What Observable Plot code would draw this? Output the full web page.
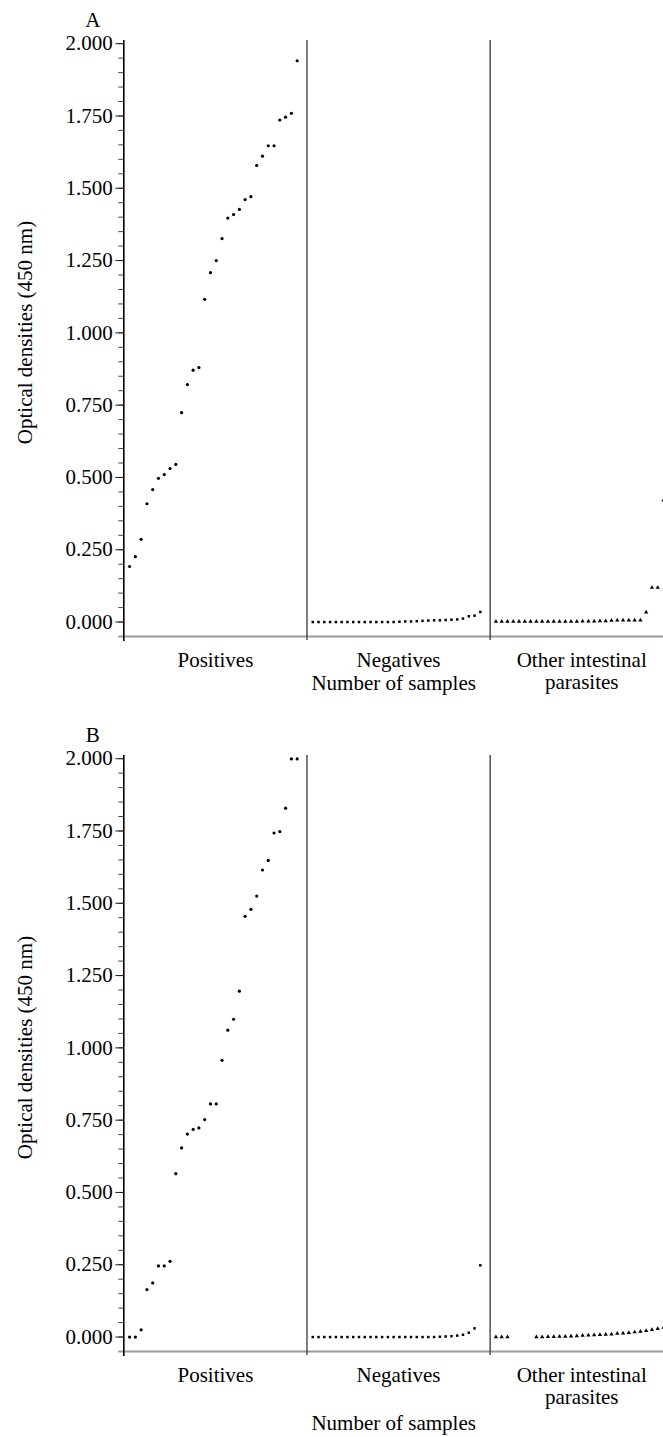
<!DOCTYPE html>
<html><head><meta charset="utf-8">
<script src="https://cdn.jsdelivr.net/npm/d3@7"></script>
<script src="https://cdn.jsdelivr.net/npm/@observablehq/plot@0.6"></script>
<style>
html,body{margin:0;padding:0;background:#fff;overflow:hidden}
#chart svg{display:block}
#chart svg text{font-family:'Liberation Serif','Times New Roman',serif}
</style></head><body><div id="chart"></div>
<script>
const groups = ["Positives", "Negatives", "Other intestinal\nparasites"];
const yTickValues = [0, 0.25, 0.5, 0.75, 1, 1.25, 1.5, 1.75, 2];
const yTitle = "Optical densities (450 nm)";
const xTitle = "Number of samples";

// Panel A
const posA = [0.192,0.226,0.286,0.409,0.458,0.497,0.510,0.531,0.545,0.724,0.821,0.871,0.880,1.116,1.208,1.250,1.326,1.397,1.409,1.427,1.461,1.471,1.579,1.611,1.647,1.647,1.736,1.746,1.759,1.941];
const negA = [0,0,0,0,0,0,0,0,0,0,0,0,0,0,0,0.001,0.002,0.002,0.003,0.004,0.005,0.006,0.006,0.007,0.008,0.009,0.012,0.020,0.022,0.035];
const othA = [0.002,0.002,0.002,0.002,0.002,0.002,0.002,0.002,0.002,0.002,0.002,0.002,0.002,0.002,0.002,0.003,0.003,0.003,0.004,0.004,0.005,0.006,0.006,0.006,0.006,0.006,0.034,0.119,0.119,0.421];

// Panel B
const posB = [0,0,0.025,0.164,0.187,0.246,0.246,0.262,0.565,0.654,0.702,0.718,0.723,0.752,0.806,0.806,0.957,1.061,1.099,1.196,1.455,1.479,1.525,1.615,1.648,1.743,1.748,1.829,1.999,1.999];
const negB = [0,0,0,0,0,0,0,0,0,0,0,0,0,0,0,0,0,0,0,0,0,0,0.001,0.002,0.003,0.005,0.008,0.015,0.030,0.248];
const othB = [0,0,0,null,null,null,null,0,0,0.001,0.001,0.002,0.002,0.003,0.004,0.005,0.006,0.007,0.008,0.009,0.010,0.012,0.013,0.015,0.017,0.019,0.022,0.025,0.029,0.033];

const G = 31.7;          // sample slots per group
const yMin = -0.05, yMax = 2.011;
const symbols = ["circle", "square", "triangle"];
const sizes = [1.6, 1.4, 1.6];
const FONT = "'Liberation Serif', 'Times New Roman', serif";
const FS = 21;

function panel(letter, series, height, xTitleDy) {
  const rows = series.flatMap((vals, g) => vals.map((v, i) => ({g, x: g * G + i + 1, y: v}))).filter(d => d.y != null);
  const txt = {fontFamily: FONT, fontSize: FS, fill: "#000"};
  return Plot.plot({
    width: 663, height,
    marginLeft: 123.3, marginRight: 0, marginTop: 40, marginBottom: height - 636,
    style: `font-family: ${FONT}; font-size: ${FS}px; color: #000; background: #fff;`,
    x: {domain: [0, 93.4], axis: null},
    y: {domain: [yMin, yMax]},
    marks: [
      Plot.ruleY([yMin], {stroke: "#9a9a9a", strokeWidth: 2, insetLeft: -5}),
      Plot.ruleX([G, 2 * G], {stroke: "#444", strokeWidth: 1.4, insetBottom: -4}),
      Plot.ruleX([0], {stroke: "#000", strokeWidth: 1.6, insetBottom: -5}),
      Plot.axisY({ticks: d3.range(0, 2.0001, 0.05), tickSize: 5, tickFormat: () => "", stroke: "#444", label: null}),
      Plot.axisY({ticks: yTickValues, tickFormat: d3.format(".3f"), tickSize: 8, tickPadding: 3, stroke: "#222", label: null, ...txt}),
      ...[0, 1, 2].map(g => Plot.dot(rows.filter(d => d.g === g), {x: "x", y: "y", symbol: symbols[g], r: sizes[g], fill: "#000", stroke: "none", clip: true})),
      Plot.text(groups, {x: (d, i) => i * G + G / 2, frameAnchor: "bottom", dy: 14, lineAnchor: "top", textAnchor: "middle", lineHeight: 1.08, text: d => d, ...txt}),
      Plot.text([xTitle], {frameAnchor: "bottom", dy: xTitleDy, lineAnchor: "middle", textAnchor: "middle", text: d => d, ...txt}),
      Plot.text([yTitle], {frameAnchor: "left", dx: -99, dy: -6, rotate: -90, textAnchor: "middle", lineAnchor: "middle", text: d => d, ...txt}),
      Plot.text([letter], {frameAnchor: "top-left", dx: -31, dy: -20, textAnchor: "middle", lineAnchor: "middle", text: d => d, ...txt})
    ]
  });
}

const chart = document.getElementById("chart");
chart.append(panel("A", [posA, negA, othA], 715, 47));
chart.append(panel("B", [posB, negB, othB], 722, 72));
</script></body></html>
